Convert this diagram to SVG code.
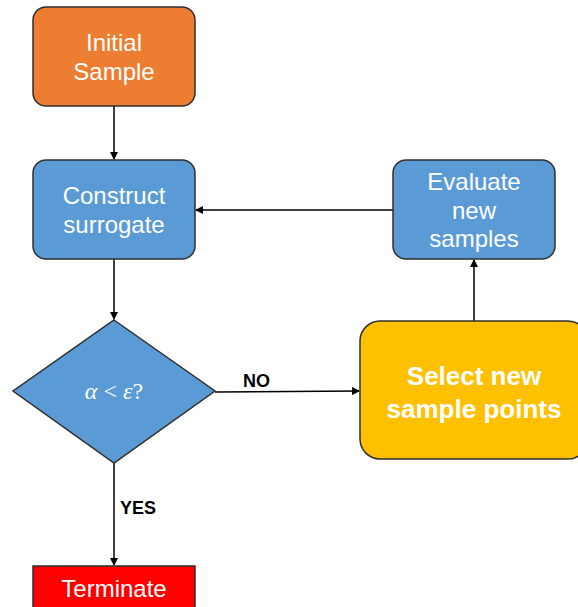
<svg xmlns="http://www.w3.org/2000/svg" width="578" height="607" viewBox="0 0 578 607">
<style>
.box{stroke:#2f2f2f;stroke-width:1.5}
.t{font-family:"Liberation Sans",Arial,sans-serif;font-size:24px;fill:#fff;text-anchor:middle}
.tb{font-family:"Liberation Sans",Arial,sans-serif;font-size:26px;font-weight:bold;fill:#fff;text-anchor:middle}
.lbl{font-family:"Liberation Sans",Arial,sans-serif;font-size:18px;font-weight:bold;fill:#000}
.c{stroke:#000;stroke-width:1.5;fill:none;marker-end:url(#ah)}
</style>
<defs>
<marker id="ah" markerWidth="8" markerHeight="8" refX="7" refY="4" orient="auto" markerUnits="userSpaceOnUse">
<path d="M0,0 L8,4 L0,8 Z" fill="#000"/>
</marker>
</defs>
<rect width="578" height="607" fill="#fff"/>
<g id="connectors">
<line class="c" x1="114" y1="106" x2="114" y2="159"/>
<line class="c" x1="114" y1="259" x2="114" y2="319"/>
<line class="c" x1="114" y1="463" x2="114" y2="565"/>
<line class="c" x1="215" y1="392" x2="359" y2="391"/>
<line class="c" x1="474" y1="321" x2="474" y2="260"/>
<line class="c" x1="393" y1="210" x2="196" y2="210"/>
<text class="lbl" x="243" y="387">NO</text>
<text class="lbl" x="120" y="514">YES</text>
</g>
<g id="initial">
<rect class="box" x="33" y="7" width="162" height="99" rx="13" fill="#ED7D31"/>
<text class="t" x="114" y="51">Initial</text>
<text class="t" x="114" y="80">Sample</text>
</g>
<g id="construct">
<rect class="box" x="33" y="160" width="162" height="99" rx="13" fill="#5B9BD5"/>
<text class="t" x="114" y="204">Construct</text>
<text class="t" x="114" y="233">surrogate</text>
</g>
<g id="evaluate">
<rect class="box" x="393" y="160" width="162" height="99" rx="13" fill="#5B9BD5"/>
<text class="t" x="474" y="190">Evaluate</text>
<text class="t" x="474" y="219">new</text>
<text class="t" x="474" y="247">samples</text>
</g>
<g id="decision">
<polygon class="box" points="114,320 215,391 114,463 13,391" fill="#5B9BD5"/>
<text x="114" y="399" style="font-family:'Liberation Serif','DejaVu Serif',serif;font-size:24px;fill:#fff;text-anchor:middle"><tspan font-style="italic">α</tspan> &lt; <tspan font-style="italic">ε</tspan>?</text>
</g>
<g id="select">
<rect class="box" x="360" y="321" width="228" height="138" rx="20" fill="#FFC000"/>
<text class="tb" x="474" y="385">Select new</text>
<text class="tb" x="474" y="418">sample points</text>
</g>
<g id="terminate">
<rect class="box" x="33" y="566" width="162" height="50" fill="#FF0000"/>
<text class="t" x="114" y="597">Terminate</text>
</g>
</svg>
